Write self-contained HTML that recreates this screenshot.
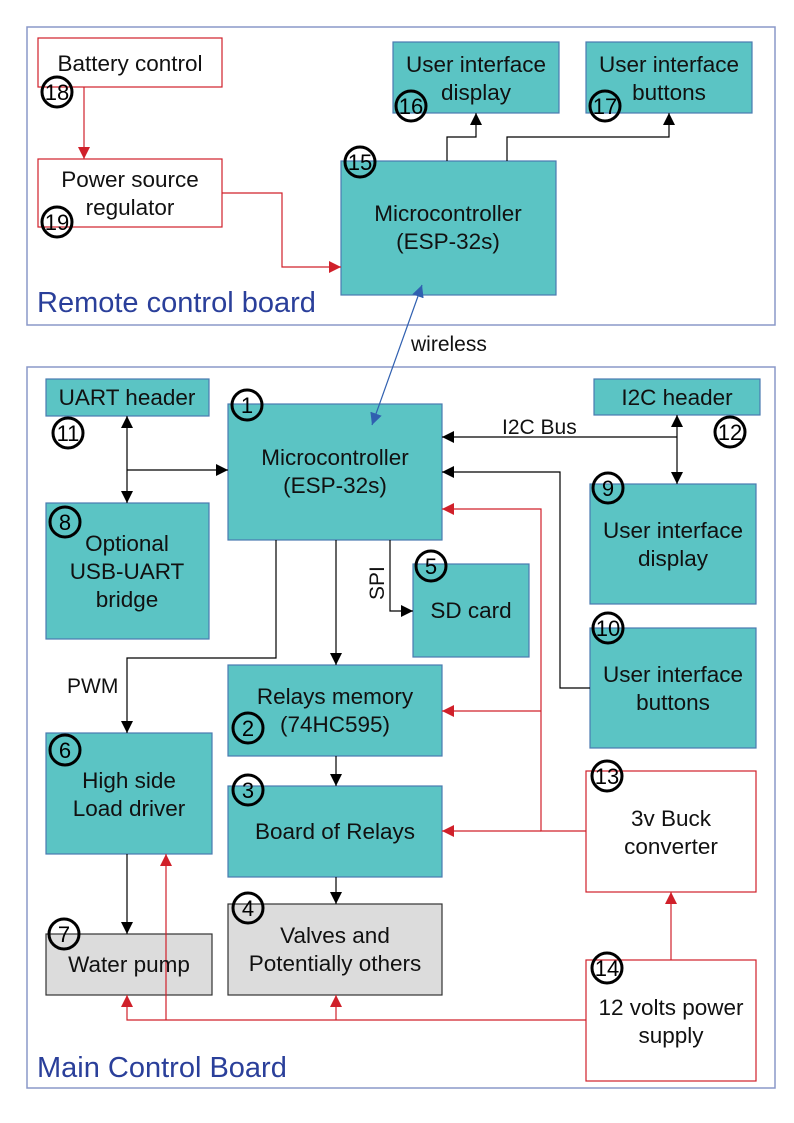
<!DOCTYPE html>
<html><head><meta charset="utf-8"><style>body{margin:0;background:#fff}svg{display:block}</style></head><body>
<svg width="794" height="1123" viewBox="0 0 794 1123" xmlns="http://www.w3.org/2000/svg" font-family="Liberation Sans, sans-serif">
<defs>
<marker id="ak" viewBox="0 0 10 10" refX="10" refY="5" markerWidth="12" markerHeight="12" orient="auto-start-reverse" markerUnits="userSpaceOnUse"><path d="M0,0L10,5L0,10z" fill="#000"/></marker>
<marker id="ar" viewBox="0 0 10 10" refX="10" refY="5" markerWidth="12" markerHeight="12" orient="auto-start-reverse" markerUnits="userSpaceOnUse"><path d="M0,0L10,5L0,10z" fill="#d0202a"/></marker>
<marker id="ab" viewBox="0 0 10 10" refX="10" refY="5" markerWidth="12" markerHeight="12" orient="auto-start-reverse" markerUnits="userSpaceOnUse"><path d="M0,0L10,5L0,10z" fill="#3060b0"/></marker>
</defs>
<rect x="27" y="27" width="748" height="298" fill="none" stroke="#8a98c8" stroke-width="1.5"/>
<rect x="27" y="367" width="748" height="721" fill="none" stroke="#8a98c8" stroke-width="1.5"/>
<g stroke-width="1.2">
<g fill="#fff" stroke="#d0202a">
<rect x="38" y="38" width="184" height="49"/><rect x="38" y="159" width="184" height="68"/>
<rect x="586" y="771" width="170" height="121"/><rect x="586" y="960" width="170" height="121"/>
</g>
<g fill="#5bc4c4" stroke="#4a7ab0">
<rect x="341" y="161" width="215" height="134"/><rect x="393" y="42" width="166" height="71"/><rect x="586" y="42" width="166" height="71"/>
<rect x="46" y="379" width="163" height="37"/><rect x="228" y="404" width="214" height="136"/><rect x="594" y="379" width="166" height="36"/>
<rect x="46" y="503" width="163" height="136"/><rect x="413" y="564" width="116" height="93"/><rect x="590" y="484" width="166" height="120"/>
<rect x="590" y="628" width="166" height="120"/><rect x="228" y="665" width="214" height="91"/><rect x="46" y="733" width="166" height="121"/>
<rect x="228" y="786" width="214" height="91"/>
</g>
<g fill="#dcdcdc" stroke="#333"><rect x="46" y="934" width="166" height="61"/><rect x="228" y="904" width="214" height="91"/></g>
</g>
<g fill="none" stroke="#000" stroke-width="1.2">
<path d="M447 161V137H476V113" marker-end="url(#ak)"/><path d="M507 161V137H669V113" marker-end="url(#ak)"/>
<path d="M127 416V503" marker-start="url(#ak)" marker-end="url(#ak)"/><path d="M127 470H228" marker-end="url(#ak)"/>
<path d="M677 437H442" marker-end="url(#ak)"/><path d="M677 415V484" marker-start="url(#ak)" marker-end="url(#ak)"/>
<path d="M590 688H560V472H442" marker-end="url(#ak)"/>
<path d="M390 540V611H413" marker-end="url(#ak)"/><path d="M336 540V665" marker-end="url(#ak)"/>
<path d="M276 540V658H127V733" marker-end="url(#ak)"/><path d="M336 756V786" marker-end="url(#ak)"/><path d="M336 877V904" marker-end="url(#ak)"/>
<path d="M127 854V934" marker-end="url(#ak)"/>
</g>
<g fill="none" stroke="#d0202a" stroke-width="1.2">
<path d="M84 87V159" marker-end="url(#ar)"/><path d="M222 193H282V267H341" marker-end="url(#ar)"/>
<path d="M586 831H541V509H442" marker-end="url(#ar)"/><path d="M541 711H442" marker-end="url(#ar)"/><path d="M541 831H442" marker-end="url(#ar)"/>
<path d="M166 1020V854" marker-end="url(#ar)"/><path d="M586 1020H127V995" marker-end="url(#ar)"/><path d="M336 1020V995" marker-end="url(#ar)"/>
<path d="M671 960V892" marker-end="url(#ar)"/>
</g>
<path d="M422 285L372 425" stroke="#3060b0" stroke-width="1.2" marker-start="url(#ab)" marker-end="url(#ab)"/>
<g font-size="22.5" fill="#111" text-anchor="middle">
<text x="130" y="71">Battery control</text><text x="130" y="187">Power source</text><text x="130" y="215">regulator</text>
<text x="448" y="221">Microcontroller</text><text x="448" y="249">(ESP-32s)</text>
<text x="476" y="72">User interface</text><text x="476" y="100">display</text><text x="669" y="72">User interface</text><text x="669" y="100">buttons</text>
<text x="127" y="405">UART header</text><text x="335" y="465">Microcontroller</text><text x="335" y="493">(ESP-32s)</text><text x="677" y="405">I2C header</text>
<text x="127" y="551">Optional</text><text x="127" y="579">USB-UART</text><text x="127" y="607">bridge</text>
<text x="471" y="618">SD card</text><text x="673" y="538">User interface</text><text x="673" y="566">display</text>
<text x="673" y="682">User interface</text><text x="673" y="710">buttons</text>
<text x="335" y="704">Relays memory</text><text x="335" y="732">(74HC595)</text>
<text x="129" y="788">High side</text><text x="129" y="816">Load driver</text><text x="335" y="839">Board of Relays</text>
<text x="671" y="826">3v Buck</text><text x="671" y="854">converter</text>
<text x="129" y="972">Water pump</text><text x="335" y="943">Valves and</text><text x="335" y="971">Potentially others</text>
<text x="671" y="1015">12 volts power</text><text x="671" y="1043">supply</text>
</g>
<g font-size="21" fill="#111"><text x="411" y="351">wireless</text><text x="502" y="434">I2C Bus</text><text x="67" y="693">PWM</text>
<text transform="translate(384,600) rotate(-90)">SPI</text></g>
<g font-size="29" fill="#2a3f9a"><text x="37" y="312">Remote control board</text><text x="37" y="1077">Main Control Board</text></g>
<g fill="none" stroke="#000" stroke-width="3">
<circle cx="57" cy="92" r="15"/><circle cx="57" cy="222" r="15"/><circle cx="360" cy="162" r="15"/><circle cx="411" cy="106" r="15"/><circle cx="605" cy="106" r="15"/>
<circle cx="247" cy="405" r="15"/><circle cx="68" cy="433" r="15"/><circle cx="730" cy="432" r="15"/><circle cx="65" cy="522" r="15"/><circle cx="431" cy="566" r="15"/>
<circle cx="608" cy="488" r="15"/><circle cx="608" cy="628" r="15"/><circle cx="248" cy="728" r="15"/><circle cx="65" cy="750" r="15"/><circle cx="248" cy="790" r="15"/>
<circle cx="607" cy="776" r="15"/><circle cx="64" cy="934" r="15"/><circle cx="248" cy="908" r="15"/><circle cx="607" cy="968" r="15"/>
</g>
<g font-size="22" fill="#000" text-anchor="middle">
<text x="57" y="100">18</text><text x="57" y="230">19</text><text x="360" y="170">15</text><text x="411" y="114">16</text><text x="605" y="114">17</text>
<text x="247" y="413">1</text><text x="68" y="441">11</text><text x="730" y="440">12</text><text x="65" y="530">8</text><text x="431" y="574">5</text>
<text x="608" y="496">9</text><text x="608" y="636">10</text><text x="248" y="736">2</text><text x="65" y="758">6</text><text x="248" y="798">3</text>
<text x="607" y="784">13</text><text x="64" y="942">7</text><text x="248" y="916">4</text><text x="607" y="976">14</text>
</g>
</svg>
</body></html>
